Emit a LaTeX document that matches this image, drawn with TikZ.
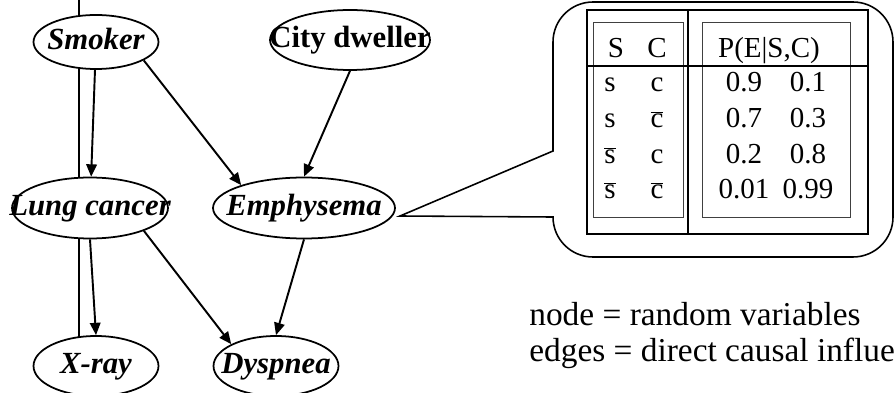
\documentclass[tikz,border=0pt]{standalone}
\usepackage{fontspec}
\setmainfont{Liberation Serif}
\usepackage{tikz}
\usetikzlibrary{arrows.meta, positioning, shapes.geometric, backgrounds}

\newcommand{\varname}[1]{\makebox[0pt]{#1}}
\newcommand{\negv}[1]{$\overline{\mbox{#1}}$}
\tikzset{
	bnvar/.style 2 args={ellipse, draw, line width=1pt, fill=white, inner sep=0pt,
		minimum width=#1, minimum height=#2, text height=12pt, text depth=3pt,
		font=\fontsize{17.5}{20}\selectfont\bfseries\itshape},
	bnedge/.style={line width=1.1pt, -{Triangle[length=7pt, width=6pt]}},
	cpt/.style={anchor=base, inner sep=0pt, font=\fontsize{16.5}{19}\selectfont},
	note/.style={anchor=base west, inner sep=0pt, font=\fontsize{19}{22}\selectfont},
}

\begin{document}
\begin{tikzpicture}[x=0.02cm, y=0.02cm]
		\useasboundingbox (0,0) rectangle (895,392);
		% Variables and causal links:
		\node[bnvar={2.5cm}{1.08cm}] (smoker) at (96,350){\varname{Smoker}};
		\node[bnvar={3.2cm}{1.2cm}, font=\fontsize{17.5}{20}\selectfont\bfseries] (city) at (350,352){\varname{City dweller}};
		\node[bnvar={3.12cm}{1.22cm}] (lung) at (90,184){\varname{Lung cancer}};
		\node[bnvar={3.64cm}{1.22cm}] (emph) at (304,184){\varname{Emphysema}};
		\node[bnvar={2.5cm}{1.2cm}] (xray) at (96,26){\varname{X-ray}};
		\node[bnvar={2.5cm}{1.2cm}] (dysp) at (276,26){\varname{Dyspnea}};
		\draw[bnedge] (smoker) -- (lung);
		\draw[bnedge] (smoker.-21) -- (emph.160);
		\draw[bnedge] (city.south) -- (emph.north);
		\draw[bnedge] (lung.south) -- (xray.north);
		\draw[bnedge] (lung.-23) -- (dysp.154);
		\draw[bnedge] (emph.south) -- (dysp.north);
		\begin{scope}[on background layer]
			\coordinate (railtop) at (79,392);
			\draw[line width=0.6pt] (railtop) -- (railtop |- xray.center);
		\end{scope}
		% Callout with the table of P(E|S,C):
		\coordinate (tip) at (400,176);
		\draw[line width=0.9pt] (tip) -- (553,241) -- (553,350) arc[start angle=180, end angle=90, radius=0.8cm]
			-- (853,390) arc[start angle=90, end angle=0, radius=0.8cm]
			-- (893,175) arc[start angle=0, end angle=-90, radius=0.8cm]
			-- (593,135) arc[start angle=270, end angle=180, radius=0.8cm] -- cycle;
		\draw[line width=0.5pt, black!75] (593,370) rectangle (683,175);
		\draw[line width=0.5pt, black!75] (702,370) rectangle (850,175);
		\draw[line width=0.8pt] (587,382) rectangle (868,158);
		\draw[line width=0.8pt] (688,382) -- (688,158);
		\draw[line width=0.8pt] (587,326) -- (868,326);
		\node[cpt] (headS) at (616,334){S};
		\node[cpt] (headC) at (657,334){C};
		\node[cpt] (headP) at (769,334){P(E|S,C)};
		\foreach \y/\s/\c/\pt/\pf [count=\i] in {300/s/c/0.9/0.1, 264/s/\negv{c}/0.7/0.3, 228/\negv{s}/c/0.2/0.8, 193/\negv{s}/\negv{c}/0.01/0.99}{
			\node[cpt] (rowS\i) at (610,\y){\s};
			\node[cpt] (rowC\i) at (657,\y){\c};
			\node[cpt] (rowT\i) at (744,\y){\pt};
			\node[cpt] (rowF\i) at (808,\y){\pf};
		}
		% Legend:
		\node[note] (nodenote) at (529,67){node = random variables};
		\node[note] (edgenote) at (529,31){edges = direct causal influence};
	\end{tikzpicture}
\end{document}
